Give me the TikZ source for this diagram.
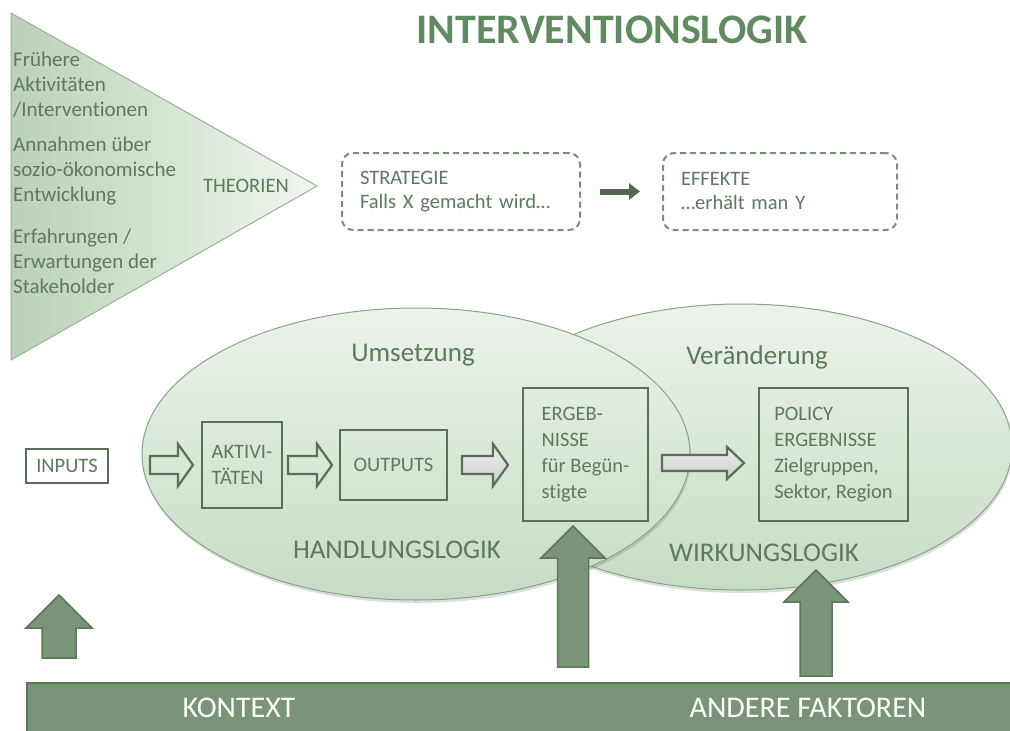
\documentclass[tikz,border=0pt]{standalone}
\usepackage{fontspec}
\setmainfont{Carlito}[Ligatures={NoCommon,NoContextual}]
\usetikzlibrary{arrows.meta,shadows}
\definecolor{titlec}{RGB}{96,138,96}
\definecolor{txt}{RGB}{92,122,92}
\definecolor{boxc}{RGB}{88,112,86}
\definecolor{dashc}{RGB}{120,145,118}
\definecolor{trileft}{RGB}{186,210,184}
\definecolor{triright}{RGB}{240,246,238}
\definecolor{tridraw}{RGB}{150,180,150}
\definecolor{elltop}{RGB}{236,243,234}
\definecolor{ellbot}{RGB}{198,220,197}
\definecolor{elldraw}{RGB}{135,165,133}
\definecolor{upfill}{RGB}{122,148,120}
\definecolor{updraw}{RGB}{92,118,90}
\definecolor{sarr}{RGB}{84,104,82}
\tikzset{
  tx/.style={text=txt,font=\fontsize{21}{25}\selectfont,inner sep=0pt},
  big/.style={text=txt,font=\fontsize{27}{30}\selectfont,inner sep=0pt},
  ttl/.style={text=titlec,font=\fontsize{42}{46}\selectfont\bfseries,inner sep=0pt},
  dbox/.style={draw=dashc,line width=2pt,dash pattern=on 6pt off 4pt,rounded corners=11pt,
     text=txt,font=\fontsize{20.5}{24}\selectfont,align=left,inner xsep=18pt,inner ysep=0pt,minimum height=77pt},
  box/.style={draw=boxc,line width=2.2pt,text=txt,font=\fontsize{20.5}{26}\selectfont,align=left,inner sep=0pt},
  ell/.style={draw=elldraw,line width=1pt,top color=elltop,bottom color=ellbot,
     drop shadow={shadow xshift=1pt,shadow yshift=-3pt,opacity=0.18,fill=black!70}},
  tri/.style={draw=tridraw,line width=1pt,left color=trileft,right color=triright},
  hollow/.style={draw=boxc,line width=2.2pt,fill=none,line join=miter},
  grayarr/.style={draw=boxc,line width=2.2pt,top color=gray!12,bottom color=gray!40,line join=miter},
  uparr/.style={draw=updraw,line width=1.5pt,fill=upfill},
  bar/.style={draw=updraw,line width=1.5pt,fill=upfill},
  bartext/.style={text=white,font=\fontsize{30}{32}\selectfont,inner sep=0pt},
  sarrow/.style={draw=sarr,line width=6pt,-{Triangle[length=11pt,width=16pt]}}
}
\begin{document}
\begin{tikzpicture}[x=1pt,y=-1pt]
\useasboundingbox (0,0) rectangle (1010,731);
\clip (0,0) rectangle (1010,731);
\fill[white] (0,0) rectangle (1010,731);

% title
\node[ttl] (title) at (612,30) {INTERVENTIONSLOGIK};

% theories triangle
\path[tri] (11,13) -- (317,186) -- (11,360) -- cycle;
\node[tx,anchor=west,align=left] (t1) at (13,85) {Frühere\\Aktivitäten\\/Interventionen};
\node[tx,anchor=west,align=left] (t2) at (13,171) {Annahmen über\\sozio-ökonomische\\Entwicklung};
\node[tx,anchor=west,align=left] (t3) at (13,261) {Erfahrungen /\\Erwartungen der\\Stakeholder};
\node[tx,font=\fontsize{20.5}{25}\selectfont] (theo) at (246,186) {THEORIEN};

% strategy / effects
\node[dbox,text width=202pt] (strat) at (461,191.5) {STRATEGIE\\Falls X gemacht wird…};
\node[dbox,text width=198pt] (eff) at (780,191.5) {EFFEKTE\\…erhält man Y};
\draw[sarrow,shorten <=19pt,shorten >=22pt] (strat) -- (eff);

% ellipses
\path[ell] (741,447) ellipse [x radius=271pt, y radius=143pt];
\path[ell] (416,454) ellipse [x radius=274pt, y radius=146pt];
\node[big] (ums) at (413,355) {Umsetzung};
\node[big] (ver) at (757,357) {Veränderung};
\node[big] (hand) at (397,550) {HANDLUNGSLOGIK};
\node[big] (wirk) at (764,553) {WIRKUNGSLOGIK};

% boxes
\node[box,fill=white,minimum width=82pt,minimum height=34pt,align=center] (inp) at (67,466) {INPUTS};
\node[box,minimum width=80pt,minimum height=86pt] (akt) at (242,465) {\fontsize{20.5}{21}\selectfont AKTIVI-\\TÄTEN};
\node[box,minimum width=107pt,minimum height=70pt,align=center] (out) at (393.5,465) {OUTPUTS};
\node[box,minimum width=125pt,minimum height=133pt] (erg) at (585.5,454.5) {ERGEB-\\NISSE\\für Begün-\\stigte};
\node[box,minimum width=149pt,minimum height=133pt] (pol) at (833.5,454.5) {POLICY\\ERGEBNISSE\\Zielgruppen,\\Sektor, Region};

% block arrows
\path[hollow] (150,456)--(178,456)--(178,444)--(193,465)--(178,486)--(178,474)--(150,474)--cycle;
\path[hollow] (288,456)--(317,456)--(317,444)--(332,465)--(317,486)--(317,474)--(288,474)--cycle;
\path[grayarr] (462,456)--(493,456)--(493,444)--(508,465)--(493,486)--(493,474)--(462,474)--cycle;
\path[grayarr] (662,455)--(727,455)--(727,447)--(744,463)--(727,479)--(727,471)--(662,471)--cycle;

% up arrows
\path[uparr] (42,658)--(42,628)--(26,628)--(59,595)--(92,628)--(76,628)--(76,658)--cycle;
\path[uparr] (557.5,667)--(557.5,558)--(541,558)--(573,526)--(605,558)--(588.5,558)--(588.5,667)--cycle;
\path[uparr] (800,676)--(800,602)--(784,602)--(816,570)--(848,602)--(832,602)--(832,676)--cycle;

% context bar
\path[bar] (27,683) rectangle (1020,745);
\node[bartext] (kon) at (239,708) {KONTEXT};
\node[bartext] (and) at (808,708) {ANDERE FAKTOREN};
\end{tikzpicture}
\end{document}
